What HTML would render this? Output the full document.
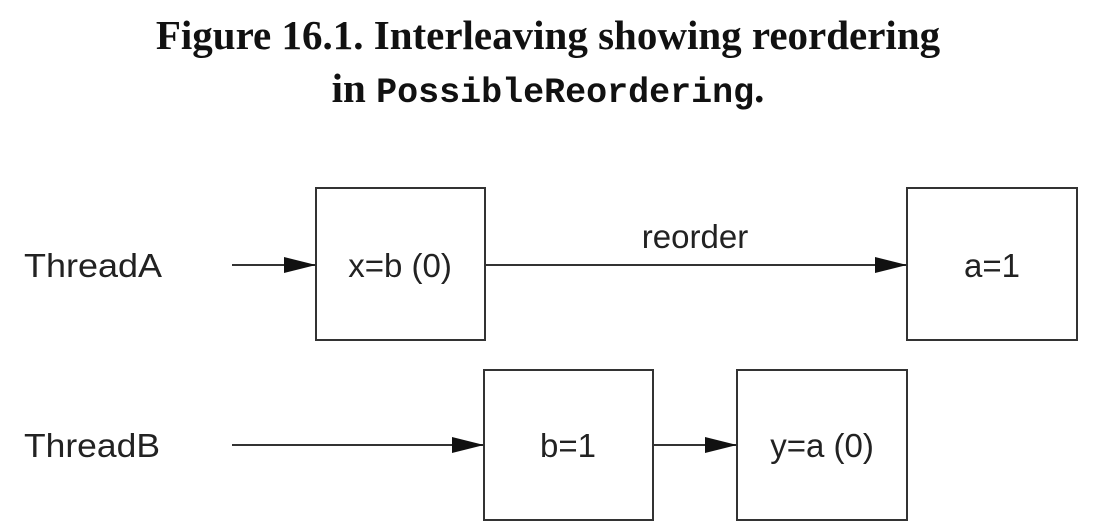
<!DOCTYPE html>
<html><head><meta charset="utf-8"><style>
html,body{margin:0;padding:0;background:#fff;}
body{width:1116px;height:526px;overflow:hidden;position:relative;}
.t{position:absolute;left:0;width:1096px;text-align:center;font-family:"Liberation Serif",serif;font-weight:bold;font-size:41px;color:#111;line-height:1;}
.m{font-family:"Liberation Mono",monospace;font-weight:bold;font-size:35px;}
</style></head><body>
<div class="t" style="top:15px;">Figure 16.1. Interleaving showing reordering</div>
<div class="t" style="top:68px;">in <span class="m">PossibleReordering</span>.</div>
<svg width="1116" height="526" style="position:absolute;left:0;top:0" font-family="Liberation Sans, sans-serif" font-size="33" fill="#222">
<defs><marker id="a" markerWidth="32" markerHeight="16" refX="32" refY="8" orient="auto" markerUnits="userSpaceOnUse"><path d="M0,0 L32,8 L0,16 Z" fill="#111"/></marker></defs>
<g stroke="#333" stroke-width="2" fill="none">
<rect x="316" y="188" width="169" height="152"/>
<rect x="907" y="188" width="170" height="152"/>
<rect x="484" y="370" width="169" height="150"/>
<rect x="737" y="370" width="170" height="150"/>
<line x1="232" y1="265" x2="316" y2="265" marker-end="url(#a)"/>
<line x1="485" y1="265" x2="907" y2="265" marker-end="url(#a)"/>
<line x1="232" y1="445" x2="484" y2="445" marker-end="url(#a)"/>
<line x1="653" y1="445" x2="737" y2="445" marker-end="url(#a)"/>
</g>
<text x="24" y="277" textLength="138" lengthAdjust="spacingAndGlyphs">ThreadA</text>
<text x="24" y="457" textLength="136" lengthAdjust="spacingAndGlyphs">ThreadB</text>
<text x="400" y="277" text-anchor="middle">x=b (0)</text>
<text x="992" y="277" text-anchor="middle">a=1</text>
<text x="568" y="457" text-anchor="middle">b=1</text>
<text x="822" y="457" text-anchor="middle">y=a (0)</text>
<text x="695" y="248" text-anchor="middle">reorder</text>
</svg>
</body></html>
